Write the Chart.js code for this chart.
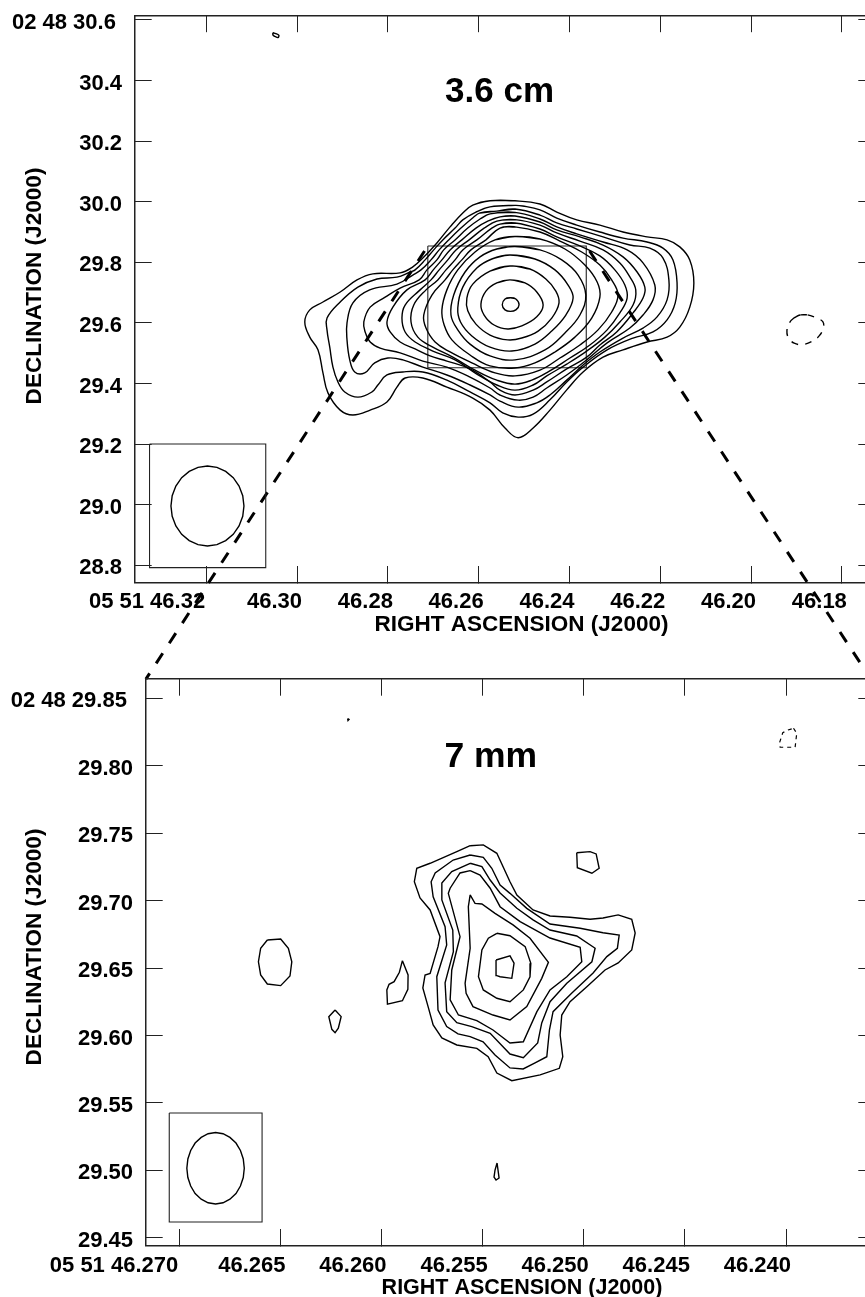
<!DOCTYPE html>
<html lang="en">
  <head>
    <meta charset="utf-8" />
    <title>3.6 cm and 7 mm contour maps</title>
    <script src="https://cdn.jsdelivr.net/npm/chart.js@4"></script>
    <style>
      * {
        margin: 0;
        padding: 0;
      }
      body {
        background: #ffffff;
      }
      #page {
        position: relative;
        width: 865px;
        height: 1297px;
        overflow: hidden;
        background: #ffffff;
      }
      canvas {
        position: absolute;
        top: 0;
        left: 0;
      }
    </style>
  </head>
  <body>
    <div id="page">
      <canvas id="map36" width="890" height="1297"></canvas>
      <canvas id="map7" width="890" height="1297"></canvas>
    </div>
    <script>
      // axis ticks
      const raTicks36 = [46.32, 46.30, 46.28, 46.26, 46.24, 46.22, 46.20, 46.18];
      const raLabels36 = ["05 51 46.32 ", "46.30", "46.28", "46.26", "46.24", "46.22", "46.20", "46.18"];
      const decTicks36 = [30.6, 30.4, 30.2, 30.0, 29.8, 29.6, 29.4, 29.2, 29.0, 28.8];
      const decLabels36 = ["02 48 30.6 ", "30.4", "30.2", "30.0", "29.8", "29.6", "29.4", "29.2", "29.0", "28.8"];
      const raTicks7 = [46.27, 46.265, 46.26, 46.255, 46.25, 46.245, 46.24];
      const raLabels7 = ["05 51 46.270 ", "46.265", "46.260", "46.255", "46.250", "46.245", "46.240"];
      const decTicks7 = [29.85, 29.8, 29.75, 29.7, 29.65, 29.6, 29.55, 29.5, 29.45];
      const decLabels7 = ["02 48 29.85 ", "29.80", "29.75", "29.70", "29.65", "29.60", "29.55", "29.50", "29.45"];

      // 3.6 cm contours, [RA seconds, Dec seconds]
      const c36a = [[46.2575,30.0034],[46.2520,30.003],[46.2465,29.9925],[46.2428,29.966],[46.2384,29.940],[46.2333,29.923],[46.2282,29.900],[46.2229,29.884],[46.2185,29.874],[46.2157,29.851],[46.2135,29.808],[46.2126,29.732],[46.2135,29.652],[46.2157,29.586],[46.2185,29.553],[46.2229,29.537],[46.2282,29.511],[46.2326,29.487],[46.2370,29.438],[46.2406,29.379],[46.2443,29.312],[46.2480,29.253],[46.2513,29.221],[46.2542,29.253],[46.2575,29.312],[46.2613,29.352],[46.2670,29.388],[46.2723,29.418],[46.2762,29.418],[46.2780,29.388],[46.2802,29.339],[46.2839,29.312],[46.2877,29.296],[46.2905,29.312],[46.2932,29.369],[46.2943,29.435],[46.2954,29.511],[46.2972,29.553],[46.2983,29.603],[46.2972,29.643],[46.2943,29.669],[46.2905,29.702],[46.2868,29.742],[46.2833,29.762],[46.2773,29.765],[46.2745,29.785],[46.2723,29.814],[46.2692,29.864],[46.2663,29.917],[46.2635,29.963],[46.2613,29.989]];
      const c36b = [[46.2575,29.983],[46.2520,29.988],[46.2503,29.986],[46.2465,29.973],[46.2428,29.946],[46.2384,29.923],[46.2333,29.900],[46.2282,29.880],[46.2229,29.867],[46.2194,29.847],[46.2172,29.808],[46.2163,29.732],[46.2167,29.666],[46.2185,29.610],[46.2216,29.570],[46.2260,29.550],[46.2317,29.511],[46.2370,29.454],[46.2406,29.405],[46.2443,29.346],[46.2480,29.299],[46.2513,29.289],[46.2547,29.303],[46.2575,29.336],[46.2619,29.372],[46.2670,29.411],[46.2723,29.438],[46.2767,29.438],[46.2802,29.428],[46.2822,29.395],[46.2835,29.372],[46.2866,29.355],[46.2895,29.372],[46.2910,29.405],[46.2921,29.454],[46.2928,29.520],[46.2934,29.576],[46.2934,29.616],[46.2905,29.669],[46.2866,29.718],[46.2824,29.745],[46.2780,29.751],[46.2751,29.768],[46.2740,29.775],[46.2718,29.808],[46.2699,29.841],[46.2679,29.874],[46.2652,29.913],[46.2635,29.940],[46.2606,29.966]];
      const c36c = [[46.2560,29.969],[46.2520,29.976],[46.2465,29.956],[46.2428,29.930],[46.2384,29.910],[46.2326,29.884],[46.2267,29.857],[46.2223,29.847],[46.2194,29.814],[46.2181,29.742],[46.2185,29.676],[46.2207,29.620],[46.2238,29.583],[46.2282,29.550],[46.2333,29.504],[46.2370,29.461],[46.2406,29.411],[46.2443,29.362],[46.2472,29.336],[46.2513,29.322],[46.2553,29.342],[46.2575,29.362],[46.2619,29.395],[46.2670,29.428],[46.2723,29.454],[46.2767,29.478],[46.2800,29.484],[46.2829,29.468],[46.2851,29.435],[46.2873,29.438],[46.2884,29.478],[46.2890,29.544],[46.2890,29.600],[46.2877,29.666],[46.2840,29.709],[46.2780,29.728],[46.2745,29.758],[46.2727,29.775],[46.2705,29.808],[46.2687,29.841],[46.2666,29.874],[46.2639,29.913],[46.2612,29.948],[46.2597,29.963]];
      const c36d = [[46.2575,29.960],[46.2520,29.965],[46.2465,29.943],[46.2428,29.917],[46.2384,29.894],[46.2326,29.867],[46.2273,29.841],[46.2238,29.798],[46.2212,29.725],[46.2216,29.676],[46.2238,29.626],[46.2267,29.583],[46.2317,29.534],[46.2362,29.478],[46.2406,29.428],[46.2450,29.385],[46.2480,29.355],[46.2513,29.345],[46.2553,29.362],[46.2575,29.385],[46.2619,29.421],[46.2670,29.454],[46.2723,29.474],[46.2773,29.501],[46.2817,29.517],[46.2839,29.537],[46.2850,29.570],[46.2853,29.603],[46.2839,29.652],[46.2806,29.685],[46.2773,29.715],[46.2731,29.742],[46.2714,29.775],[46.2692,29.808],[46.2677,29.841],[46.2652,29.874],[46.2624,29.913],[46.2597,29.943]];
      const c36e = [[46.2553,29.950],[46.2520,29.953],[46.2465,29.933],[46.2428,29.907],[46.2377,29.884],[46.2326,29.857],[46.2282,29.818],[46.2251,29.768],[46.2234,29.718],[46.2238,29.682],[46.2260,29.633],[46.2296,29.570],[46.2333,29.527],[46.2362,29.487],[46.2406,29.448],[46.2450,29.405],[46.2480,29.378],[46.2520,29.362],[46.2553,29.378],[46.2575,29.405],[46.2619,29.448],[46.2670,29.474],[46.2707,29.491],[46.2740,29.514],[46.2773,29.537],[46.2795,29.570],[46.2802,29.603],[46.2789,29.652],[46.2758,29.709],[46.2718,29.742],[46.2700,29.775],[46.2681,29.808],[46.2663,29.841],[46.2637,29.874],[46.2606,29.913],[46.2580,29.936]];
      const c36f = [[46.2560,29.936],[46.2520,29.941],[46.2465,29.923],[46.2428,29.897],[46.2377,29.870],[46.2326,29.841],[46.2289,29.798],[46.2267,29.752],[46.2254,29.709],[46.2260,29.659],[46.2289,29.603],[46.2322,29.553],[46.2362,29.507],[46.2406,29.464],[46.2450,29.425],[46.2480,29.395],[46.2520,29.378],[46.2560,29.395],[46.2604,29.431],[46.2652,29.478],[46.2701,29.507],[46.2740,29.537],[46.2762,29.570],[46.2769,29.616],[46.2762,29.659],[46.2729,29.709],[46.2705,29.742],[46.2687,29.775],[46.2668,29.808],[46.2650,29.841],[46.2621,29.874],[46.2588,29.913]];
      const c36g = [[46.2553,29.926],[46.2520,29.930],[46.2465,29.910],[46.2428,29.884],[46.2377,29.854],[46.2333,29.821],[46.2300,29.775],[46.2278,29.725],[46.2273,29.682],[46.2289,29.633],[46.2317,29.577],[46.2355,29.527],[46.2399,29.484],[46.2447,29.438],[46.2483,29.411],[46.2520,29.398],[46.2560,29.411],[46.2608,29.444],[46.2657,29.487],[46.2701,29.520],[46.2734,29.553],[46.2749,29.603],[46.2743,29.659],[46.2716,29.709],[46.2690,29.742],[46.2672,29.775],[46.2652,29.808],[46.2635,29.841],[46.2604,29.874],[46.2571,29.913]];
      const c36h = [[46.2553,29.913],[46.2520,29.917],[46.2465,29.900],[46.2421,29.870],[46.2373,29.834],[46.2333,29.791],[46.2307,29.742],[46.2293,29.692],[46.2307,29.636],[46.2337,29.577],[46.2377,29.527],[46.2421,29.484],[46.2465,29.444],[46.2520,29.425],[46.2564,29.435],[46.2615,29.468],[46.2663,29.504],[46.2696,29.537],[46.2716,29.583],[46.2721,29.626],[46.2703,29.692],[46.2674,29.742],[46.2657,29.775],[46.2637,29.808],[46.2617,29.841],[46.2584,29.874]];
      const c36i = [[46.2520,29.885],[46.2465,29.877],[46.2410,29.844],[46.2366,29.791],[46.2339,29.735],[46.2333,29.685],[46.2351,29.616],[46.2388,29.553],[46.2432,29.504],[46.2476,29.468],[46.2520,29.451],[46.2575,29.458],[46.2619,29.494],[46.2659,29.544],[46.2676,29.593],[46.2681,29.643],[46.2670,29.709],[46.2646,29.775],[46.2608,29.834],[46.2564,29.874]];
      const c36j = [[46.2520,29.852],[46.2465,29.841],[46.2417,29.808],[46.2381,29.758],[46.2364,29.692],[46.2377,29.626],[46.2410,29.567],[46.2454,29.511],[46.2520,29.478],[46.2575,29.491],[46.2619,29.530],[46.2646,29.577],[46.2661,29.626],[46.2655,29.692],[46.2630,29.768],[46.2597,29.818],[46.2560,29.844]];
      const c36k = [[46.2531,29.824],[46.2476,29.811],[46.2432,29.775],[46.2403,29.725],[46.2392,29.682],[46.2408,29.626],[46.2439,29.573],[46.2476,29.530],[46.2527,29.507],[46.2575,29.520],[46.2615,29.557],[46.2640,29.603],[46.2646,29.649],[46.2635,29.718],[46.2604,29.781],[46.2571,29.811]];
      const c36l = [[46.2531,29.788],[46.2487,29.778],[46.2452,29.745],[46.2430,29.705],[46.2423,29.666],[46.2439,29.616],[46.2469,29.573],[46.2505,29.550],[46.2536,29.544],[46.2575,29.560],[46.2606,29.596],[46.2624,29.640],[46.2626,29.682],[46.2613,29.728],[46.2575,29.771]];
      const c36m = [[46.2531,29.742],[46.2498,29.732],[46.2472,29.702],[46.2458,29.659],[46.2472,29.620],[46.2505,29.590],[46.2536,29.580],[46.2566,29.593],[46.2588,29.626],[46.2595,29.662],[46.2584,29.705],[46.2560,29.732]];
      const c36n = [[46.2530,29.683],[46.2518,29.679],[46.2511,29.660],[46.2518,29.643],[46.2530,29.638],[46.2542,29.643],[46.2548,29.660],[46.2542,29.679]];
      const c36Speck = [[46.3053,30.557],[46.3047,30.555],[46.3040,30.549],[46.3042,30.542],[46.3049,30.546],[46.3053,30.550]];
      const c36Negative = [[46.1892,29.626],[46.1877,29.627],[46.1859,29.618],[46.1842,29.604],[46.1841,29.582],[46.1850,29.557],[46.1863,29.541],[46.1885,29.529],[46.1905,29.533],[46.1918,29.552],[46.1921,29.574],[46.1916,29.599],[46.1905,29.617]];
      const beam36 = [[46.3117,28.9955],[46.31197,29.0297],[46.31278,29.0615],[46.31406,29.0889],[46.31572,29.1099],[46.31766,29.1231],[46.31974,29.1276],[46.32182,29.1231],[46.32376,29.1099],[46.32542,29.0889],[46.3267,29.0615],[46.32751,29.0297],[46.32778,28.9955],[46.32751,28.9613],[46.3267,28.9295],[46.32542,28.9021],[46.32376,28.8811],[46.32182,28.8679],[46.31974,28.8634],[46.31766,28.8679],[46.31572,28.8811],[46.31406,28.9021],[46.31278,28.9295],[46.31197,28.9613]];
      const beamBox36 = [[46.3325,29.200],[46.3069,29.200],[46.3069,28.792],[46.3325,28.792]];
      const zoomBox36 = [[46.2712,29.854],[46.2363,29.854],[46.2363,29.452],[46.2712,29.452]];
      const connectorLeft = [[46.2712,29.854],[46.3333,28.424]];
      const connectorRight = [[46.2363,29.854],[46.1736,28.424]];

      // 7 mm contours
      const c7a = [[46.25562,29.7407],[46.25497,29.7413],[46.2543,29.7351],[46.25365,29.7140],[46.25331,29.7042],[46.25251,29.6931],[46.25167,29.6886],[46.25068,29.6877],[46.24969,29.6862],[46.24905,29.6871],[46.2483,29.6894],[46.24763,29.6862],[46.24746,29.6760],[46.24763,29.6634],[46.2483,29.6538],[46.24895,29.6486],[46.24985,29.6362],[46.25068,29.6251],[46.25109,29.6152],[46.25117,29.6004],[46.25104,29.5843],[46.25121,29.5757],[46.25216,29.5708],[46.25356,29.5665],[46.2543,29.5722],[46.25473,29.5843],[46.25529,29.5905],[46.25628,29.5930],[46.25702,29.5982],[46.25745,29.6078],[46.2577,29.6214],[46.25796,29.6352],[46.25785,29.6449],[46.2576,29.6461],[46.25721,29.6659],[46.25711,29.6733],[46.2576,29.6931],[46.2581,29.7020],[46.25838,29.7140],[46.25826,29.7240],[46.2576,29.7277],[46.25628,29.7363]];
      const c7b = [[46.25562,29.7338],[46.25497,29.7321],[46.25455,29.7240],[46.25414,29.7116],[46.25365,29.7054],[46.25282,29.6943],[46.25167,29.6827],[46.25018,29.6795],[46.24905,29.6762],[46.24825,29.6745],[46.24834,29.6647],[46.24886,29.6585],[46.24954,29.6464],[46.25059,29.6315],[46.25152,29.6177],[46.2517,29.6041],[46.25183,29.5843],[46.25241,29.5797],[46.253,29.5752],[46.25365,29.5760],[46.25439,29.5856],[46.25498,29.5954],[46.25562,29.5992],[46.25622,29.6012],[46.25678,29.6066],[46.25721,29.6189],[46.25727,29.6436],[46.25678,29.6671],[46.25686,29.6807],[46.25745,29.7029],[46.25755,29.7140],[46.25735,29.7205],[46.25646,29.7301]];
      const c7c = [[46.25562,29.7277],[46.25504,29.7252],[46.25463,29.7153],[46.25414,29.7057],[46.25331,29.6943],[46.25251,29.6857],[46.25167,29.6782],[46.25035,29.6738],[46.24944,29.6647],[46.2496,29.6547],[46.25084,29.6387],[46.25167,29.6251],[46.25208,29.6093],[46.25228,29.5945],[46.25299,29.5836],[46.25365,29.5863],[46.25463,29.6017],[46.25554,29.6066],[46.25628,29.6095],[46.25678,29.6177],[46.25686,29.6390],[46.25645,29.6622],[46.25648,29.6782],[46.25702,29.7005],[46.25702,29.7131],[46.25653,29.7215]];
      const c7d = [[46.25562,29.7222],[46.25513,29.7190],[46.25463,29.7092],[46.25414,29.6955],[46.25315,29.6844],[46.25167,29.6723],[46.25018,29.6654],[46.2501,29.6547],[46.25084,29.6436],[46.25167,29.6338],[46.25232,29.6177],[46.25299,29.5954],[46.25365,29.5945],[46.25449,29.6041],[46.25529,29.6110],[46.2562,29.6152],[46.25661,29.6264],[46.25653,29.6486],[46.25612,29.6733],[46.2567,29.7054],[46.25661,29.7092],[46.25612,29.7205]];
      const c7e = [[46.25562,29.7042],[46.25538,29.6980],[46.25504,29.6975],[46.25439,29.6906],[46.2535,29.6820],[46.25266,29.6721],[46.25175,29.6543],[46.25208,29.6424],[46.25282,29.6214],[46.25365,29.6115],[46.25449,29.6152],[46.25548,29.6214],[46.25582,29.6313],[46.25587,29.6387],[46.25562,29.6647],[46.25571,29.6955]];
      const c7f = [[46.2543,29.6758],[46.25365,29.6740],[46.2529,29.6659],[46.25262,29.6536],[46.25266,29.6436],[46.25299,29.6338],[46.25365,29.6251],[46.2543,29.6276],[46.25497,29.6338],[46.25521,29.6436],[46.25504,29.6634],[46.25472,29.6721]];
      const c7g = [[46.25434,29.6560],[46.25365,29.6590],[46.25345,29.6536],[46.25356,29.6424],[46.25414,29.6436],[46.2543,29.6444]];
      const c7BlobNE = [[46.25035,29.7355],[46.24969,29.7363],[46.24939,29.7346],[46.24924,29.7240],[46.2496,29.7203],[46.25032,29.7244]];
      const c7BlobW = [[46.26565,29.6708],[46.26499,29.6716],[46.26461,29.6647],[46.26444,29.6547],[46.26453,29.6441],[46.26499,29.6370],[46.26565,29.6382],[46.26598,29.6449],[46.26609,29.6547],[46.26598,29.6647]];
      const c7BlobSW = [[46.2623,29.6189],[46.262,29.6140],[46.26214,29.6054],[46.2623,29.6021],[46.26246,29.6046],[46.26261,29.6140]];
      const c7BlobMid = [[46.25897,29.6555],[46.25869,29.6449],[46.2587,29.6343],[46.25897,29.6258],[46.25971,29.6232],[46.25974,29.6338],[46.25963,29.6380],[46.25938,29.6399],[46.25912,29.6469]];
      const c7Sliver = [[46.25429,29.5055],[46.25419,29.4944],[46.25434,29.4929],[46.25444,29.4951],[46.25439,29.5003]];
      const c7Dot = [[46.26168,29.8350],[46.26161,29.8343],[46.26166,29.8335]];
      const c7Negative = [[46.23963,29.8278],[46.23947,29.8241],[46.23955,29.8137],[46.24029,29.8137],[46.24033,29.8166],[46.24016,29.8245],[46.2399,29.8265]];
      const beam7 = [[46.26679,29.5016],[46.26684,29.5085],[46.26698,29.5148],[46.2672,29.5203],[46.2675,29.5245],[46.26784,29.5272],[46.26821,29.5281],[46.26858,29.5272],[46.26892,29.5245],[46.26922,29.5203],[46.26944,29.5148],[46.26958,29.5085],[46.26963,29.5016],[46.26958,29.4947],[46.26944,29.4884],[46.26922,29.4829],[46.26892,29.4787],[46.26858,29.476],[46.26821,29.4751],[46.26784,29.476],[46.2675,29.4787],[46.2672,29.4829],[46.26698,29.4884],[46.26684,29.4947]];
      const beamBox7 = [[46.2705,29.5426],[46.26591,29.5426],[46.26591,29.4618],[46.2705,29.4618]];

      const FONT = '"Liberation Sans", Arial, sans-serif';
      const AXIS_COLOR = "#222222";
      const TICK_LEN = 16.7;

      const toXY = (pairs) => pairs.map((p) => ({ x: p[0], y: p[1] }));
      // smoothed rings overlap one segment at each end so the join has no kink
      const closed = (pairs, tension) =>
        tension > 0
          ? toXY([pairs[pairs.length - 1]].concat(pairs, [pairs[0], pairs[1]]))
          : toXY(pairs.concat([pairs[0]]));

      // one closed contour
      const ring = (pairs, tension, extra) =>
        Object.assign(
          {
            data: closed(pairs, tension),
            showLine: true,
            pointRadius: 0,
            borderColor: "#000000",
            borderWidth: 1.4,
            tension: tension,
            xAxisID: "x",
            yAxisID: "y",
          },
          extra || {}
        );

      const connector = (pairs) => ({
        data: toXY(pairs),
        showLine: true,
        pointRadius: 0,
        borderColor: "#000000",
        borderWidth: 3,
        borderDash: [12, 12],
        borderDashOffset: 18,
        clip: false,
        xAxisID: "x",
        yAxisID: "y",
      });

      // inward ticks, tick labels are pushed back out through the padding
      const axisBase = () => ({
        type: "linear",
        border: { display: true, color: AXIS_COLOR, width: 1.5 },
        grid: {
          drawOnChartArea: false,
          drawTicks: true,
          tickLength: -TICK_LEN,
          tickColor: AXIS_COLOR,
          tickWidth: 1,
        },
      });

      const forcedSize = (prop, size) => (scale) => {
        scale[prop] = size;
        scale.paddingLeft = scale.paddingRight = scale.paddingTop = scale.paddingBottom = 0;
      };

      const setTicks = (values) => (scale) => {
        scale.ticks = values.map((v) => ({ value: v }));
      };

      const makePanel = (id, p) => {
        const labelFont = { family: FONT, size: 22, weight: "bold" };
        const common = (values, min, max, reverse) =>
          Object.assign(axisBase(), { min: min, max: max, reverse: reverse, afterBuildTicks: setTicks(values) });

        const textPlugin = {
          id: "panelText",
          afterDraw(chart) {
            const ctx = chart.ctx;
            ctx.save();
            ctx.fillStyle = "#000000";
            ctx.textAlign = "center";
            ctx.textBaseline = "middle";
            ctx.font = "bold " + p.nameSize + "px " + FONT;
            ctx.fillText(p.name, chart.scales.x.getPixelForValue(p.nameAt[0]), chart.scales.y.getPixelForValue(p.nameAt[1]));
            ctx.font = "bold " + p.xTitleSize + "px " + FONT;
            ctx.fillText("RIGHT ASCENSION (J2000)", p.xTitleAt[0], p.xTitleAt[1]);
            ctx.translate(p.yTitleAt[0], p.yTitleAt[1]);
            ctx.rotate(-Math.PI / 2);
            ctx.font = "bold 22.6px " + FONT;
            ctx.fillText("DECLINATION (J2000)", 0, 0);
            ctx.restore();
          },
        };

        return new Chart(document.getElementById(id), {
          type: "scatter",
          data: { datasets: p.datasets },
          plugins: [textPlugin],
          options: {
            responsive: false,
            animation: false,
            events: [],
            devicePixelRatio: 1,
            layout: { padding: { top: 0, left: 0, right: 15, bottom: 0 } },
            plugins: { legend: { display: false }, tooltip: { enabled: false }, title: { display: false } },
            scales: {
              x: Object.assign(common(p.raTicks, p.raMin, p.raMax, true), {
                position: "bottom",
                afterFit: forcedSize("height", p.bottomRoom),
                ticks: {
                  autoSkip: false,
                  maxRotation: 0,
                  minRotation: 0,
                  align: "end",
                  labelOffset: 5,
                  padding: TICK_LEN + p.xTickGap,
                  color: "#000000",
                  font: labelFont,
                  callback: (v, i) => p.raLabels[i],
                },
              }),
              xTop: Object.assign(common(p.raTicks, p.raMin, p.raMax, true), {
                position: "top",
                afterFit: forcedSize("height", p.topRoom),
                ticks: { display: false },
              }),
              y: Object.assign(common(p.decTicks, p.decMin, p.decMax, false), {
                position: "left",
                afterFit: forcedSize("width", p.leftRoom),
                ticks: {
                  autoSkip: false,
                  labelOffset: 3,
                  padding: TICK_LEN + 13,
                  color: "#000000",
                  font: labelFont,
                  callback: (v, i) => p.decLabels[i],
                },
              }),
              yRight: Object.assign(common(p.decTicks, p.decMin, p.decMax, false), {
                position: "right",
                afterFit: forcedSize("width", 0),
                ticks: { display: false },
              }),
            },
          },
        });
      };

      const thin = { borderWidth: 1.1, borderColor: AXIS_COLOR };
      const rings36 = [c36a, c36b, c36c, c36d, c36e, c36f, c36g, c36h, c36i, c36j, c36k, c36l, c36m, c36n];
      const rings7 = [c7a, c7b, c7c, c7d, c7e, c7f, c7g, c7BlobNE, c7BlobW, c7BlobSW, c7BlobMid, c7Sliver, c7Dot];

      makePanel("map36", {
        name: "3.6 cm",
        nameAt: [46.2554, 30.362],
        nameSize: 35,
        xTitleAt: [521.5, 625],
        xTitleSize: 22.5,
        yTitleAt: [35, 286],
        raTicks: raTicks36,
        raLabels: raLabels36,
        decTicks: decTicks36,
        decLabels: decLabels36,
        raMin: 46.1727,
        raMax: 46.3357,
        decMin: 28.7423,
        decMax: 30.6148,
        topRoom: 15.5,
        bottomRoom: 714.3,
        leftRoom: 135,
        xTickGap: 6,
        datasets: rings36
          .map((r) => ring(r, 0.4))
          .concat([
            ring(c36Speck, 0.3),
            ring(c36Negative, 0.4, { borderDash: [7, 7] }),
            ring(beam36, 0),
            ring(beamBox36, 0, thin),
            ring(zoomBox36, 0, thin),
            connector(connectorLeft),
            connector(connectorRight),
          ]),
      });

      makePanel("map7", {
        name: "7 mm",
        nameAt: [46.2546, 29.8065],
        nameSize: 35.5,
        xTitleAt: [522, 1288.5],
        xTitleSize: 21.5,
        yTitleAt: [35, 947],
        raTicks: raTicks7,
        raLabels: raLabels7,
        decTicks: decTicks7,
        decLabels: decLabels7,
        raMin: 46.2356,
        raMax: 46.27165,
        decMin: 29.4442,
        decMax: 29.8643,
        topRoom: 679,
        bottomRoom: 51.3,
        leftRoom: 146,
        xTickGap: 7,
        datasets: rings7
          .map((r) => ring(r, 0))
          .concat([
            ring(c7Negative, 0, { borderDash: [4, 4], borderWidth: 1.2 }),
            ring(beam7, 0),
            ring(beamBox7, 0, thin),
          ]),
      });
    </script>
  </body>
</html>
